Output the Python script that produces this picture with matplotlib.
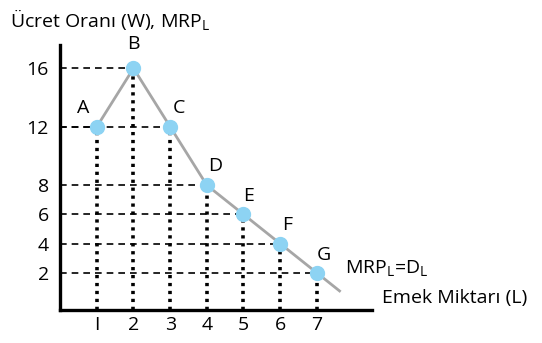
import matplotlib.pyplot as plt

plt.rcParams['font.family'] = ['Open Sans', 'DejaVu Sans']

labor = [1, 2, 3, 4, 5, 6, 7]
mrp = [12, 16, 12, 8, 6, 4, 2]
point_names = ['A', 'B', 'C', 'D', 'E', 'F', 'G']
y_ticks = [2, 4, 6, 8, 12, 16]
# offsets (points) of the letter labels from their markers
label_offsets = [(-10, 7), (0, 11), (6, 7), (6, 7), (4, 7), (5, 7), (5, 6)]

fs = 14

fig = plt.figure(figsize=(5.42, 3.43), dpi=100)
ax = fig.add_axes([0.111, 0.096, 0.575, 0.773])

# guide lines
for x, y in zip(labor, mrp):
    ax.plot([0, x], [y, y], color='black', lw=1.2, ls=(0, (4, 3)), zorder=1)
    ax.plot([x, x], [-0.55, y], color='black', lw=2.6, ls=(0, (0.9, 1.3)),
            zorder=1)

# demand curve, extended a little past G
ext = 0.62
x_end = labor[-1] + ext
y_end = mrp[-1] + (mrp[-1] - mrp[-2]) * ext
ax.plot(labor + [x_end], mrp + [y_end], color='#a6a6a6', lw=2, zorder=2)
ax.plot(labor, mrp, ls='none', marker='o', ms=10, color='#8dd3f3', zorder=3)

for x, y, name, off in zip(labor, mrp, point_names, label_offsets):
    ax.annotate(name, (x, y), xytext=off, textcoords='offset points',
                ha='center', va='bottom', fontsize=fs)

ax.annotate('MRP$_\\mathregular{L}$=D$_\\mathregular{L}$', (labor[-1], mrp[-1]),
            xytext=(20, 3), textcoords='offset points', va='center',
            fontsize=fs)

ax.set_xlim(0, 8.5)
ax.set_ylim(-0.55, 17.6)
ax.set_xticks(labor)
ax.set_xticklabels(['I', '2', '3', '4', '5', '6', '7'])
ax.set_yticks(y_ticks)
ax.tick_params(length=0, labelsize=fs, pad=8)
ax.tick_params(axis='x', pad=4)

for s in ['top', 'right']:
    ax.spines[s].set_visible(False)
for s in ['left', 'bottom']:
    ax.spines[s].set_linewidth(2.4)

fig.text(0.018, 0.94, 'Ücret Oranı (W), MRP$_\\mathregular{L}$', fontsize=fs,
         va='center')
fig.text(0.705, 0.13, 'Emek Miktarı (L)', fontsize=fs, va='center')

fig.savefig('out.png', dpi=100)
